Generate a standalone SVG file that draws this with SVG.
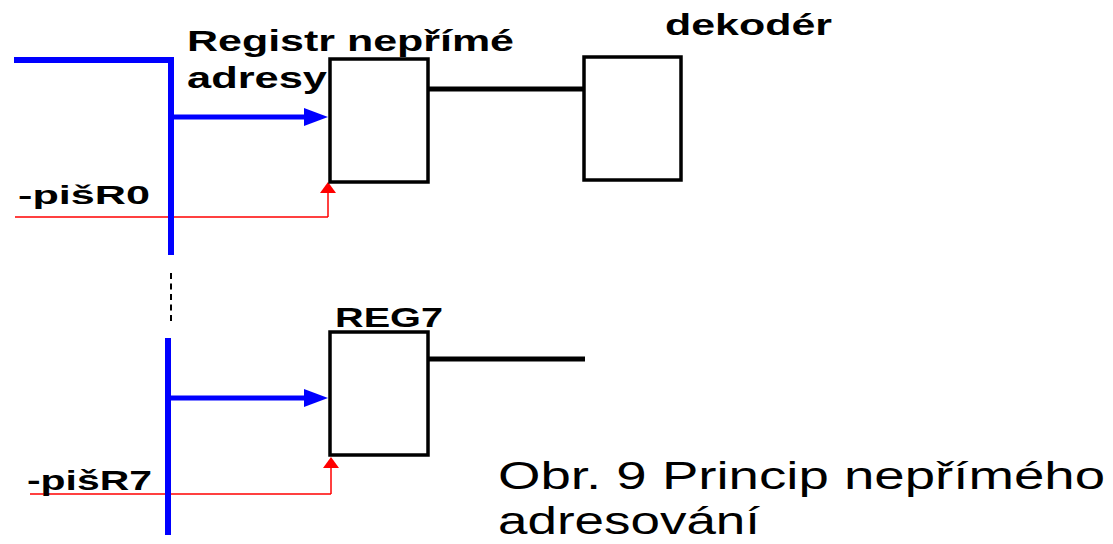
<svg xmlns="http://www.w3.org/2000/svg" width="1113" height="544" viewBox="0 0 1113 544">
<style>
.box{fill:#fff;stroke:#000;stroke-width:3.5}
.bus{fill:none;stroke:#0000ff;stroke-width:6;stroke-linecap:butt}
.barrow{fill:none;stroke:#0000ff;stroke-width:5;marker-end:url(#bhead)}
.wire{fill:none;stroke:#000;stroke-width:5}
.sig{fill:none;stroke:#ff0000;stroke-width:1.5;marker-end:url(#rhead)}
.dots{fill:none;stroke:#000;stroke-width:2;stroke-dasharray:6 4.5}
.lb{font-family:"Liberation Sans",Arial,sans-serif;font-weight:bold;fill:#000}
.cap{font-family:"Liberation Sans",Arial,sans-serif;font-size:38px;fill:#000}
</style>
<defs>
<marker id="bhead" markerUnits="userSpaceOnUse" markerWidth="24" markerHeight="18" refX="0" refY="9" orient="auto" overflow="visible">
<path d="M0,0 L24,9 L0,18 z" fill="#0000ff"/>
</marker>
<marker id="rhead" markerUnits="userSpaceOnUse" markerWidth="11" markerHeight="16" refX="0" refY="8" orient="auto" overflow="visible">
<path d="M0,0 L11,8 L0,16 z" fill="#ff0000"/>
</marker>
</defs>
<rect width="1113" height="544" fill="#fff"/>
<g id="connectors">
<line class="sig" x1="15" y1="217" x2="328" y2="217" style="marker-end:none"/>
<line class="sig" x1="328" y1="217" x2="328" y2="193"/>
<line class="sig" x1="30" y1="494" x2="331" y2="494" style="marker-end:none"/>
<polyline class="bus" points="14,60 171,60 171,255"/>
<line class="dots" x1="171" y1="273" x2="171" y2="322"/>
<line class="bus" x1="168" y1="338" x2="168" y2="535"/>
<line class="sig" x1="331" y1="494" x2="331" y2="468"/>
<line class="barrow" x1="174" y1="117" x2="304" y2="117"/>
<line class="barrow" x1="171" y1="398" x2="304" y2="398"/>
<line class="wire" x1="428" y1="89" x2="584" y2="89"/>
<line class="wire" x1="428" y1="359" x2="585" y2="359"/>
</g>
<g id="reg0">
<rect class="box" x="330" y="59" width="98" height="123"/>
<text class="lb" x="187" y="51" font-size="29" textLength="327" lengthAdjust="spacingAndGlyphs">Registr nepřímé</text>
<text class="lb" x="187" y="88" font-size="29" textLength="140" lengthAdjust="spacingAndGlyphs">adresy</text>
</g>
<g id="dekoder">
<rect class="box" x="584" y="57" width="97" height="123"/>
<text class="lb" x="665" y="35" font-size="29" textLength="167" lengthAdjust="spacingAndGlyphs">dekodér</text>
</g>
<g id="reg7">
<rect class="box" x="330" y="332" width="98" height="123"/>
<text class="lb" x="335" y="327" font-size="28" textLength="108" lengthAdjust="spacingAndGlyphs">REG7</text>
</g>
<g id="signal-labels">
<text class="lb" x="18" y="204" font-size="26" textLength="132" lengthAdjust="spacingAndGlyphs">-pišR0</text>
<text class="lb" x="27" y="490" font-size="28" textLength="125" lengthAdjust="spacingAndGlyphs">-pišR7</text>
</g>
<g id="caption">
<text class="cap" x="498" y="489" textLength="607" lengthAdjust="spacingAndGlyphs">Obr. 9 Princip nepřímého</text>
<text class="cap" x="498" y="534" textLength="262" lengthAdjust="spacingAndGlyphs">adresování</text>
</g>
</svg>
